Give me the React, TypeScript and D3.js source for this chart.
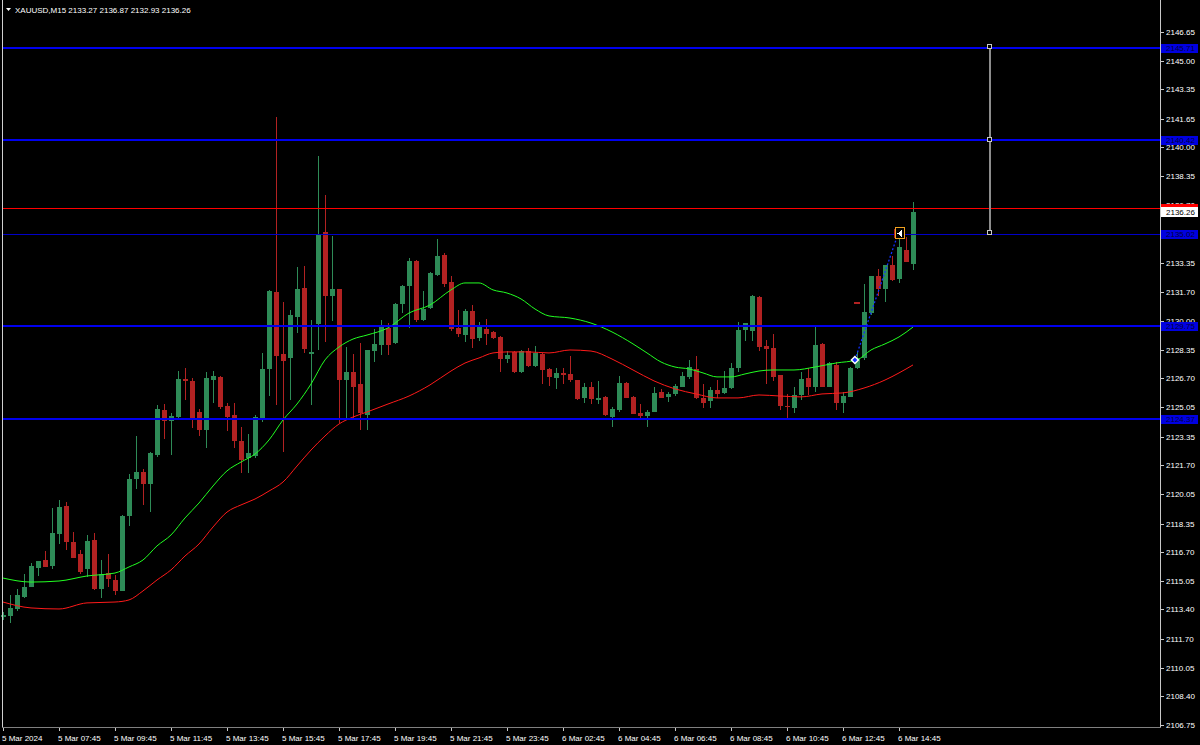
import React from "react";
import * as d3 from "d3";

// ---------- DATA ----------
const symbolName = "XAUUSD,M15";

const opens = [2112.97,2113.03,2113.43,2114.12,2114.70,2115.79,2116.25,2115.91,2117.75,2119.36,2117.29,2116.60,2115.73,2117.40,2114.58,2115.50,2115.10,2114.47,2118.78,2120.91,2121.32,2120.63,2122.30,2124.89,2124.25,2124.48,2126.67,2126.56,2124.77,2123.74,2126.61,2126.79,2125.12,2124.60,2123.10,2122.12,2122.24,2124.31,2127.25,2131.68,2128.11,2127.88,2130.24,2131.91,2128.11,2129.84,2135.13,2131.45,2131.85,2126.61,2127.07,2126.38,2124.60,2128.28,2128.63,2129.61,2128.74,2130.99,2132.03,2133.46,2130.07,2130.76,2132.66,2133.81,2132.26,2129.61,2129.20,2130.59,2129.03,2129.55,2129.38,2129.09,2127.82,2128.23,2127.07,2128.28,2127.42,2128.11,2127.25,2126.73,2127.02,2126.96,2126.61,2125.58,2126.21,2125.46,2125.64,2124.48,2124.89,2126.44,2125.64,2124.71,2124.54,2124.77,2125.92,2125.64,2125.81,2126.21,2126.79,2127.25,2125.58,2125.40,2126.04,2125.87,2126.15,2127.30,2129.49,2129.43,2131.39,2128.57,2128.46,2126.90,2125.12,2125.00,2125.75,2126.73,2126.21,2128.69,2126.21,2127.48,2125.29,2125.64,2127.30,2127.88,2130.47,2132.60,2131.85,2133.23,2132.43,2134.10,2133.27];
const highs = [2113.26,2114.24,2114.58,2115.44,2116.08,2116.19,2116.77,2119.24,2119.70,2119.59,2117.86,2116.83,2117.69,2117.81,2116.25,2116.60,2115.39,2118.84,2121.20,2123.39,2121.49,2122.47,2125.17,2125.23,2124.71,2127.13,2127.30,2126.73,2124.94,2127.07,2127.13,2126.84,2125.29,2125.29,2123.91,2123.50,2124.60,2128.17,2131.79,2141.75,2131.10,2130.64,2133.12,2133.18,2130.07,2139.51,2137.26,2134.90,2131.85,2128.51,2128.11,2128.74,2128.34,2129.55,2130.07,2129.89,2131.05,2132.08,2133.64,2133.52,2131.74,2132.83,2134.73,2133.93,2132.60,2130.64,2130.70,2130.93,2129.95,2130.13,2129.43,2129.15,2128.28,2128.28,2128.34,2128.46,2128.57,2128.17,2127.30,2127.30,2127.30,2127.99,2126.61,2126.44,2126.50,2126.56,2125.69,2125.06,2126.84,2126.50,2125.69,2125.23,2124.89,2126.21,2126.10,2125.92,2126.38,2127.07,2127.77,2127.99,2126.38,2126.21,2126.61,2127.13,2127.59,2129.95,2129.89,2131.51,2131.45,2128.92,2129.26,2126.90,2125.81,2126.21,2127.07,2127.30,2129.78,2128.74,2127.65,2127.65,2125.92,2127.36,2128.23,2132.14,2132.60,2133.00,2133.23,2133.75,2134.90,2134.85,2136.87];
const lows = [2112.80,2112.62,2113.31,2114.06,2114.70,2115.33,2115.85,2115.73,2117.17,2116.83,2116.37,2115.44,2115.27,2114.52,2114.06,2114.70,2114.24,2114.47,2118.21,2120.34,2119.42,2119.01,2122.18,2123.22,2122.30,2124.43,2125.46,2123.85,2123.39,2122.70,2125.29,2124.94,2123.68,2122.70,2121.26,2121.26,2122.12,2124.20,2125.69,2125.17,2122.47,2125.46,2129.32,2128.17,2125.17,2128.34,2128.80,2130.01,2124.14,2124.31,2124.31,2123.74,2123.74,2127.65,2128.05,2128.05,2128.69,2130.47,2129.61,2129.95,2130.01,2130.70,2132.60,2131.97,2129.43,2129.09,2128.80,2128.46,2128.86,2128.63,2128.97,2127.07,2127.59,2127.02,2127.02,2127.36,2127.36,2126.38,2126.27,2126.10,2126.38,2126.50,2125.46,2125.29,2125.23,2125.23,2124.54,2123.91,2124.77,2125.58,2124.66,2124.37,2123.91,2124.77,2125.58,2125.35,2125.69,2126.21,2126.67,2125.52,2125.00,2125.00,2125.58,2125.81,2126.10,2127.07,2128.86,2128.86,2128.28,2126.38,2126.56,2124.89,2124.31,2124.71,2125.46,2125.75,2125.92,2126.21,2126.21,2124.89,2124.71,2125.64,2127.25,2127.77,2130.36,2131.45,2131.10,2132.31,2132.20,2133.41,2132.93];
const closes = [2113.08,2113.49,2114.24,2114.70,2115.91,2116.19,2115.85,2117.81,2119.30,2117.29,2116.37,2115.56,2117.35,2114.58,2115.44,2115.16,2114.47,2118.78,2120.91,2121.32,2120.63,2122.41,2124.94,2124.25,2124.54,2126.67,2126.56,2124.43,2123.74,2126.73,2126.84,2125.06,2124.48,2123.10,2122.01,2122.41,2124.48,2127.25,2131.74,2127.99,2127.71,2130.36,2131.85,2128.40,2128.23,2135.02,2131.45,2131.85,2126.61,2127.07,2126.21,2124.71,2128.34,2128.69,2129.66,2128.63,2130.99,2132.03,2133.46,2130.07,2130.70,2132.77,2133.75,2132.14,2129.55,2129.26,2130.59,2128.97,2129.66,2129.26,2129.03,2127.82,2128.05,2127.07,2128.28,2127.42,2128.17,2127.19,2126.79,2127.02,2126.90,2126.61,2125.52,2126.21,2125.52,2125.58,2124.60,2124.94,2126.44,2125.58,2124.66,2124.54,2124.77,2125.87,2125.58,2125.81,2126.27,2126.84,2127.36,2125.58,2125.29,2126.04,2125.81,2126.15,2127.30,2129.49,2129.89,2131.45,2128.51,2128.40,2126.79,2125.12,2125.06,2125.75,2126.67,2126.21,2128.63,2126.21,2127.59,2125.29,2125.69,2127.30,2127.88,2130.53,2132.60,2131.85,2133.23,2132.37,2134.27,2133.41,2136.26];

const fastMaBars = [0,4,8,12,16,18,20,22,24,26,28,30,32,34,36,38,40,42,44,46,48,50,52,55,58,61,64,66,68,70,72,74,76,78,81,84,87,90,92,94,96,98,100,102,104,106,108,110,113,116,119,122,124,126,128,130];
const fastMaValues = [2115.21,2114.98,2115.04,2115.33,2115.50,2115.85,2116.25,2117.06,2117.69,2118.67,2119.53,2120.51,2121.38,2121.89,2122.35,2123.16,2124.31,2125.23,2126.38,2127.77,2128.51,2128.97,2129.20,2129.61,2130.47,2130.93,2131.80,2132.20,2132.20,2131.80,2131.62,2131.28,2130.70,2130.30,2130.18,2129.89,2129.38,2128.69,2128.17,2127.65,2127.36,2127.25,2127.02,2126.79,2126.79,2126.96,2127.13,2127.19,2127.19,2127.36,2127.59,2127.77,2128.34,2128.69,2129.09,2129.66];
const slowMaBars = [0,4,8,12,16,18,20,22,24,26,28,30,32,34,36,38,40,42,44,46,48,50,52,55,58,61,64,66,68,70,72,75,78,81,84,87,90,93,96,99,102,105,108,111,114,117,120,123,126,128,130];
const slowMaValues = [2113.83,2113.49,2113.43,2113.78,2113.83,2113.95,2114.47,2115.10,2115.68,2116.48,2117.17,2118.15,2119.01,2119.42,2119.76,2120.22,2120.74,2121.66,2122.58,2123.39,2124.08,2124.48,2124.77,2125.23,2125.69,2126.33,2127.13,2127.59,2127.88,2128.17,2128.23,2128.23,2128.17,2128.34,2128.28,2127.82,2127.19,2126.56,2126.10,2125.81,2125.58,2125.58,2125.75,2125.69,2125.64,2125.81,2125.87,2126.15,2126.61,2127.02,2127.48];

const timeLabels = ["5 Mar 2024","5 Mar 07:45","5 Mar 09:45","5 Mar 11:45","5 Mar 13:45","5 Mar 15:45","5 Mar 17:45","5 Mar 19:45","5 Mar 21:45","5 Mar 23:45","6 Mar 02:45","6 Mar 04:45","6 Mar 06:45","6 Mar 08:45","6 Mar 10:45","6 Mar 12:45","6 Mar 14:45"];
const barsPerLabel = 8;

const priceTicks = ["2146.65","2145.00","2143.35","2141.65","2140.00","2138.35","2136.70","2135.00","2133.35","2131.70","2130.00","2128.35","2126.70","2125.05","2123.35","2121.70","2120.05","2118.35","2116.70","2115.05","2113.40","2111.70","2110.05","2108.40","2106.75"];

const blueLevels = [2145.71, 2140.42, 2129.75, 2124.37];
const thinLevel = 2135.02;
const askLevel = 2136.51;
const bidLevel = 2136.26;

const tradeOpen = { bar: 121.7, price: 2127.77 };
const tradeClose = { bar: 127.9, price: 2135.07 };
const pendingMark = { bar: 122, price: 2131.05 };
const ruler = { bar: 141, top: 2145.76, mid: 2140.42, bottom: 2135.05 };

// ---------- CHART ----------
const W = 1200;
const H = 745;
const AXIS_X = 1160;
const AXIS_Y = 727;
const FONT = "'Liberation Sans', Arial, sans-serif";
const BULL = "#2e8b57";
const BEAR = "#b22222";

export default function App() {
  const x = d3.scaleLinear().domain([0, 130]).range([3, 913]);
  const y = d3.scaleLinear().domain([2106.75, 2148.49]).range([725, 0]);
  const n = closes.length;
  const idx = d3.range(n);

  const line = d3
    .line<[number, number]>()
    .x((d) => x(d[0]))
    .y((d) => y(d[1]))
    .curve(d3.curveMonotoneX);
  const fastPath = line(fastMaBars.map((b, i) => [b, fastMaValues[i]]) as [number, number][]) || "";
  const slowPath = line(slowMaBars.map((b, i) => [b, slowMaValues[i]]) as [number, number][]) || "";

  const py = (p: number) => Math.round(y(p));
  const lastO = opens[n - 1], lastH = highs[n - 1], lastL = lows[n - 1], lastC = closes[n - 1];

  const ox = x(tradeOpen.bar), oy = y(tradeOpen.price);
  const cxT = x(tradeClose.bar), cyT = y(tradeClose.price);
  const rx = Math.round(x(ruler.bar));

  return (
    <svg
      width={W}
      height={H}
      style={{ position: "absolute", left: 0, top: 0, display: "block", background: "#000" }}
      fontFamily={FONT}
    >
      <rect x={0} y={0} width={W} height={H} fill="#000" />

      {/* candles */}
      <g shapeRendering="crispEdges">
        {idx.map((i) => {
          const cx = Math.round(x(i));
          const col = closes[i] >= opens[i] ? BULL : BEAR;
          const yo = py(opens[i]);
          const yc = py(closes[i]);
          const top = Math.min(yo, yc);
          const h = Math.max(1, Math.abs(yo - yc));
          return (
            <g key={i}>
              <rect x={cx} y={py(highs[i])} width={1} height={Math.max(1, py(lows[i]) - py(highs[i]))} fill={col} />
              <rect x={cx - 2} y={top} width={5} height={h} fill={col} />
            </g>
          );
        })}
      </g>

      {/* moving averages */}
      <path d={slowPath} fill="none" stroke="#ff1a1a" strokeWidth={1} />
      <path d={fastPath} fill="none" stroke="#22ff22" strokeWidth={1} />

      {/* horizontal levels */}
      <g shapeRendering="crispEdges">
        {blueLevels.map((p, i) => (
          <rect key={i} x={3} y={py(p) - 1} width={AXIS_X - 3} height={2} fill="#0000ee" />
        ))}
        <rect x={3} y={py(thinLevel)} width={AXIS_X - 3} height={1} fill="#0000c8" />
        <rect x={3} y={py(askLevel)} width={AXIS_X - 3} height={1} fill="#ff0000" />
      </g>

      {/* trade line */}
      <line x1={ox} y1={oy} x2={cxT} y2={cyT} stroke="#1030ff" strokeWidth={1.3} strokeDasharray="2,2" />
      <rect x={Math.round(x(pendingMark.bar)) - 3} y={py(pendingMark.price) - 1} width={6} height={2} fill={BEAR} />
      <g transform={`translate(${ox},${oy})`}>
        <polygon points="0,-4.5 4.5,0 0,4.5 -4.5,0" fill="#fff" />
        <polygon points="0,-2.5 2.5,0 0,2.5 -2.5,0" fill="#1030ff" />
      </g>
      <g transform={`translate(${Math.round(cxT)},${Math.round(cyT)})`} shapeRendering="crispEdges">
        <rect x={-2.5} y={-5.5} width={9} height={11} fill="#000" stroke="#f0a020" strokeWidth={1} />
        <rect x={-4} y={-4} width={1} height={9} fill={BEAR} />
        <polygon points="-0.5,0.5 3.5,-3 3.5,4" fill="#fff" />
      </g>

      {/* ruler */}
      <g shapeRendering="crispEdges">
        <rect x={rx - 1} y={py(ruler.top)} width={2} height={py(ruler.bottom) - py(ruler.top)} fill="#8c8c8c" />
        {[ruler.top, ruler.mid, ruler.bottom].map((p, i) => (
          <rect key={i} x={rx - 2.5} y={py(p) - 2.5} width={4} height={4} fill="#000" stroke="#c8c8c8" strokeWidth={1} />
        ))}
      </g>

      {/* frame */}
      <g shapeRendering="crispEdges">
        <rect x={2} y={0} width={1} height={AXIS_Y} fill="#d0d0d0" />
        <rect x={AXIS_X} y={0} width={1} height={AXIS_Y + 1} fill="#c8c8c8" />
        <rect x={2} y={AXIS_Y} width={AXIS_X - 1} height={1} fill="#808080" />
      </g>

      {/* price axis */}
      <g fontSize={8} fill="#fff">
        {priceTicks.map((t) => {
          const yy = py(parseFloat(t));
          return (
            <g key={t}>
              <rect x={AXIS_X + 1} y={yy} width={3} height={1} fill="#c8c8c8" shapeRendering="crispEdges" />
              <text x={AXIS_X + 6} y={yy} dominantBaseline="central">{t}</text>
            </g>
          );
        })}
      </g>

      {/* level labels */}
      <g fontSize={8}>
        {[...blueLevels, thinLevel].map((p, i) => {
          const yy = py(p);
          return (
            <g key={i}>
              <rect x={AXIS_X + 1} y={yy - 4.5} width={37} height={9} fill="#0000e0" shapeRendering="crispEdges" />
              <text x={AXIS_X + 6} y={yy} dominantBaseline="central" fill="#000040">{p.toFixed(2)}</text>
            </g>
          );
        })}
        <rect x={AXIS_X + 1} y={py(askLevel) - 4.5} width={37} height={9} fill="#ff0000" shapeRendering="crispEdges" />
        <rect x={AXIS_X + 1} y={py(bidLevel) - 5} width={37} height={10} fill="#fff" shapeRendering="crispEdges" />
        <text x={AXIS_X + 6} y={py(bidLevel)} dominantBaseline="central" fill="#000">{bidLevel.toFixed(2)}</text>
      </g>

      {/* time axis */}
      <g fontSize={8} fill="#fff">
        {timeLabels.map((t, k) => {
          const tx = Math.round(x(k * barsPerLabel));
          return (
            <g key={t}>
              <rect x={tx} y={AXIS_Y + 1} width={1} height={3} fill="#c8c8c8" shapeRendering="crispEdges" />
              <text x={tx - 1} y={741}>{t}</text>
            </g>
          );
        })}
      </g>

      {/* header */}
      <polygon points="6,8 11,8 8.5,11" fill="#fff" />
      <text x={15} y={12.5} fontSize={8} fill="#fff">
        {`${symbolName}  ${lastO.toFixed(2)} ${lastH.toFixed(2)} ${lastL.toFixed(2)} ${lastC.toFixed(2)}`}
      </text>
    </svg>
  );
}
